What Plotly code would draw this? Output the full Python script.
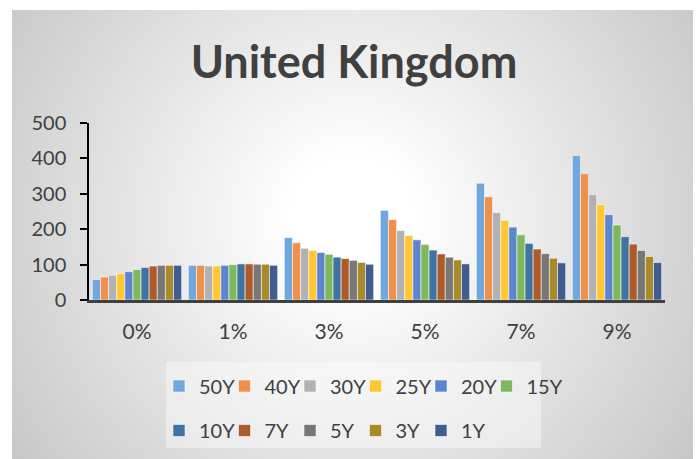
import base64
import plotly.graph_objects as go

# Shock scenarios (x categories)
scenarios = ["0%", "1%", "3%", "5%", "7%", "9%"]

# Tenors, one bar series each
tenors = ["50Y", "40Y", "30Y", "25Y", "20Y", "15Y", "10Y", "7Y", "5Y", "3Y", "1Y"]

# Values per scenario, ordered by tenor above
v_0 = [58, 65, 70, 75, 80, 86, 92, 96, 98, 98, 98]
v_1 = [98, 98, 96, 96, 98, 100, 102, 102, 101, 101, 98]
v_3 = [176, 162, 146, 140, 134, 129, 121, 117, 112, 106, 101]
v_5 = [253, 227, 196, 182, 170, 157, 141, 130, 121, 113, 102]
v_7 = [330, 292, 247, 225, 206, 184, 160, 144, 131, 118, 105]
v_9 = [408, 357, 298, 269, 241, 212, 179, 158, 140, 123, 106]

colors = ["#6FA8DC", "#F0904F", "#B2B2B2", "#FFC830", "#5B85D0", "#80B85E",
          "#3F73A3", "#AD5B2B", "#777777", "#A88A2A", "#405D90"]

y_ticks = [0, 100, 200, 300, 400, 500]

FONT = "Lato"
TXT = "#404040"

# page geometry (px)
W, H = 700, 459
L, R, T, B = 89, 665, 123, 300
pw, ph = R - L, B - T


def px_x(x):
    return (x - L) / pw


def px_y(y):
    return (B - y) / ph


rows = [v_0, v_1, v_3, v_5, v_7, v_9]

fig = go.Figure()
for i, name in enumerate(tenors):
    fig.add_trace(go.Bar(
        x=scenarios,
        y=[r[i] for r in rows],
        name=name,
        marker=dict(color=colors[i], line=dict(color="rgba(255,255,255,0.55)", width=1)),
        legend="legend" if i < 6 else "legend2",
    ))

# empty trailing legend entries so the last label in each row has room
for lg in ("legend", "legend2"):
    fig.add_trace(go.Scatter(
        x=[None], y=[None], name=" ", mode="markers",
        marker=dict(color="rgba(0,0,0,0)"), legend=lg, hoverinfo="skip",
    ))

# radial grey background of the chart area
svg = (
    '<svg xmlns="http://www.w3.org/2000/svg" width="681" height="449">'
    '<defs><radialGradient id="g" gradientUnits="userSpaceOnUse" cx="340" cy="210" r="420">'
    '<stop offset="0.14" stop-color="#ffffff"/>'
    '<stop offset="0.92" stop-color="#cccccc"/>'
    '<stop offset="1" stop-color="#c6c6c6"/>'
    '</radialGradient></defs>'
    '<rect width="681" height="449" fill="url(#g)"/>'
    '</svg>'
)
src = "data:image/svg+xml;base64," + base64.b64encode(svg.encode()).decode()

fig.add_layout_image(dict(
    source=src, xref="paper", yref="paper",
    x=px_x(12), y=px_y(10), sizex=681 / pw, sizey=449 / ph,
    xanchor="left", yanchor="top", sizing="stretch", layer="below",
))

# lighter legend panel
fig.add_shape(type="rect", xref="paper", yref="paper",
              x0=px_x(166), x1=px_x(541), y0=px_y(448), y1=px_y(362),
              fillcolor="rgba(255,255,255,0.4)", line=dict(width=0), layer="below")

legend_common = dict(
    orientation="h", xanchor="left", yanchor="middle",
    font=dict(family=FONT, size=20, color=TXT),
    bgcolor="rgba(0,0,0,0)", entrywidth=20.5, entrywidthmode="pixels",
    itemclick=False, itemdoubleclick=False, traceorder="normal",
)

fig.update_layout(
    width=W, height=H,
    margin=dict(l=L, r=W - R, t=T, b=H - B, pad=0, autoexpand=False),
    paper_bgcolor="white", plot_bgcolor="rgba(0,0,0,0)",
    barmode="group", bargap=0.07, bargroupgap=0,
    font=dict(family=FONT, color=TXT),
    title=dict(text="<b>United Kingdom</b>", font=dict(family=FONT, size=45, color=TXT),
               xref="paper", x=px_x(354), xanchor="center",
               yref="container", y=1 - 62 / H, yanchor="middle"),
    xaxis=dict(type="category", showline=True, linecolor=TXT, linewidth=3,
               ticks="", showgrid=False, zeroline=False,
               tickfont=dict(family=FONT, size=21, color=TXT), ticklabelstandoff=11),
    yaxis=dict(range=[0, 500], tickvals=y_ticks, showline=True, linecolor="black", linewidth=1.5,
               ticks="outside", ticklen=7, tickcolor="black", tickwidth=1.5,
               showgrid=False, zeroline=False,
               tickfont=dict(family=FONT, size=20, color=TXT), ticklabelstandoff=10),
    legend=dict(x=px_x(159), y=px_y(386), **legend_common),
    legend2=dict(x=px_x(159), y=px_y(430.5), **legend_common),
)

fig.write_html("out.html")
